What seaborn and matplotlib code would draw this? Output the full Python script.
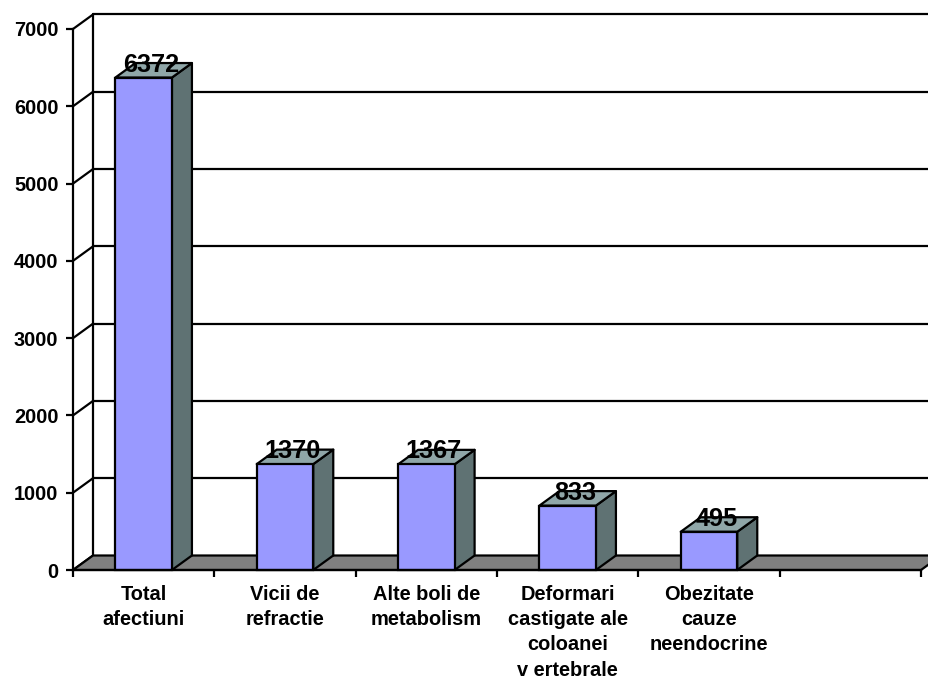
import numpy as np
import matplotlib
matplotlib.use("Agg")
import matplotlib.pyplot as plt
from matplotlib.patches import Polygon
import seaborn as sns

categories = ["Total\nafectiuni", "Vicii de\nrefractie", "Alte boli de\nmetabolism",
              "Deformari\ncastigate ale\ncoloanei\nv ertebrale",
              "Obezitate\ncauze\nneendocrine", " "]
values = [6372, 1370, 1367, 833, 495, np.nan]
value_labels = ["6372", "1370", "1367", "833", "495", ""]
y_ticks = [0, 1000, 2000, 3000, 4000, 5000, 6000, 7000]

FRONT = "#9999FF"
TOP = "#8FA6A8"
SIDE = "#5F7273"
FLOOR = "#808080"
LW = 1.6
W, H = 929, 679
L, R, T, B = 73, 921, 29, 570
DX_PX, DY_PX = 20, 14.5

sns.set_theme(style="white")
plt.rcParams["font.family"] = ["Liberation Sans", "DejaVu Sans"]
plt.rcParams["font.weight"] = "bold"

fig = plt.figure(figsize=(W / 100, H / 100), dpi=100, facecolor="white")
ax = fig.add_axes([L / W, 1 - B / H, (R - L) / W, (B - T) / H])

sns.barplot(x=categories, y=values, order=categories, color=FRONT, saturation=1,
            width=0.4, edgecolor="black", linewidth=LW, zorder=4, ax=ax)
for p in ax.patches:
    p.set_facecolor(FRONT)
    p.set_clip_on(False)

n = len(categories)
ax.set_xlim(-0.5, n - 0.5)
ax.set_ylim(0, y_ticks[-1])
dx = DX_PX * n / (R - L)
dy = DY_PX * y_ticks[-1] / (B - T)
x0, x1 = ax.get_xlim()

# Back wall: slanted connectors and horizontal gridlines
for t in y_ticks:
    ax.plot([x0, x0 + dx], [t, t + dy], color="black", lw=LW, clip_on=False, zorder=1,
            solid_capstyle="projecting")
    if t > 0:
        ax.plot([x0 + dx, x1 + dx], [t + dy, t + dy], color="black", lw=LW, clip_on=False, zorder=1)
ax.plot([x0 + dx, x0 + dx], [dy, y_ticks[-1] + dy], color="black", lw=LW, clip_on=False, zorder=1)

# Floor
ax.add_patch(Polygon([(x0, 0), (x0 + dx, dy), (x1 + dx, dy), (x1, 0)], closed=True,
                     facecolor=FLOOR, edgecolor="black", lw=LW, clip_on=False, zorder=2))

# Bar depth faces and value labels
for i, (v, lab) in enumerate(zip(values, value_labels)):
    if np.isnan(v):
        continue
    a, b = i - 0.2, i + 0.2
    ax.add_patch(Polygon([(b, 0), (b + dx, dy), (b + dx, v + dy), (b, v)], closed=True,
                         facecolor=SIDE, edgecolor="black", lw=LW, clip_on=False, zorder=3,
                         joinstyle="round"))
    ax.add_patch(Polygon([(a, v), (a + dx, v + dy), (b + dx, v + dy), (b, v)], closed=True,
                         facecolor=TOP, edgecolor="black", lw=LW, clip_on=False, zorder=3,
                         joinstyle="round"))
    ax.annotate(lab, (i, v), xytext=(7.5 * 0.72, 13 * 0.72), textcoords="offset points",
                ha="center", va="center", fontsize=18.2, fontweight="bold", color="black",
                zorder=6, annotation_clip=False)

# Axes, ticks, labels
for s in ["top", "right"]:
    ax.spines[s].set_visible(False)
for s in ["left", "bottom"]:
    ax.spines[s].set_linewidth(LW)
    ax.spines[s].set_color("black")
    ax.spines[s].set_zorder(5)
ax.set_yticks(y_ticks)
ax.set_yticklabels([str(t) for t in y_ticks], fontsize=14.4, fontweight="bold", color="black")
ax.set_xticks(np.arange(n + 1) - 0.5)
ax.set_xticklabels([""] * (n + 1))
ax.set_xticks(np.arange(n), minor=True)
ax.set_xticklabels(categories, minor=True, fontsize=14.4, fontweight="bold", color="black",
                   linespacing=1.43, va="top")
ax.tick_params(axis="both", which="major", length=5, width=LW, color="black", left=True, bottom=True)
ax.tick_params(axis="y", pad=5.5)
ax.tick_params(axis="x", which="minor", length=0, pad=10.5)
ax.set_xlabel("")
ax.set_ylabel("")
ax.patch.set_alpha(0)
fig.savefig("out.png", dpi=100, facecolor="white")
